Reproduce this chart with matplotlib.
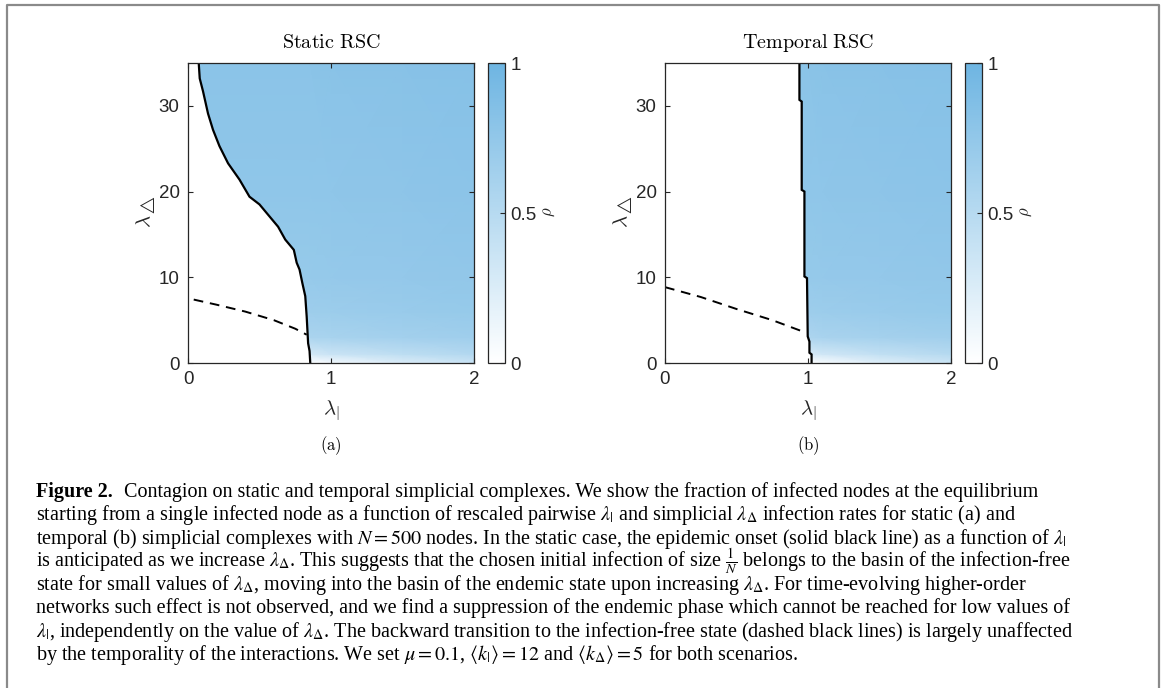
import numpy as np
import matplotlib
matplotlib.use('Agg')
import matplotlib.pyplot as plt
from matplotlib.colors import LinearSegmentedColormap
from matplotlib.patches import Polygon
from matplotlib.lines import Line2D

# ---- data ----
# epidemic onset (solid line), static RSC: (lambda_pair, lambda_tri)
static_onset_x = [0.075, 0.082, 0.105, 0.14, 0.175, 0.22, 0.28, 0.36, 0.43, 0.50, 0.57,
                  0.63, 0.68, 0.74, 0.76, 0.78, 0.80, 0.82, 0.83, 0.84, 0.85, 0.855]
static_onset_y = [35.0, 33.2, 31.7, 29.1, 27.2, 25.3, 23.3, 21.4, 19.4, 18.5, 17.1,
                  15.9, 14.4, 13.2, 11.7, 10.9, 9.3, 7.8, 5.4, 2.3, 1.4, 0.0]
# backward transition (dashed), static
static_back_x = [0.04, 0.2, 0.4, 0.6, 0.75, 0.83]
static_back_y = [7.4, 6.8, 6.0, 5.0, 4.0, 3.3]

# temporal RSC
temporal_onset_x = [0.94, 0.94, 0.956, 0.956, 0.975, 0.975, 0.993, 0.998, 1.01, 1.01, 1.025, 1.025]
temporal_onset_y = [35.0, 30.7, 30.5, 20.2, 20.0, 10.1, 9.9, 3.1, 2.5, 1.2, 1.0, 0.0]
temporal_back_x = [0.0, 0.25, 0.5, 0.75, 0.975]
temporal_back_y = [8.85, 7.7, 6.3, 5.0, 3.6]

# coarse rho field (fraction infected), rows = lambda_tri, cols = lambda_pair
static_grid_x = [0.0, 0.85, 1.0, 1.5, 2.0]
temporal_grid_x = [0.0, 1.0, 1.1, 1.5, 2.0]
grid_y = [0, 1, 3, 6, 10, 20, 35]
rho_static = [[0.00, 0.00, 0.08, 0.25, 0.36],
              [0.30, 0.30, 0.36, 0.45, 0.52],
              [0.58, 0.58, 0.60, 0.63, 0.66],
              [0.67, 0.67, 0.68, 0.70, 0.72],
              [0.72, 0.72, 0.73, 0.74, 0.75],
              [0.77, 0.77, 0.77, 0.78, 0.79],
              [0.80, 0.80, 0.81, 0.82, 0.83]]
rho_temporal = [[0.00, 0.00, 0.05, 0.22, 0.35],
                [0.28, 0.28, 0.32, 0.42, 0.50],
                [0.57, 0.57, 0.59, 0.62, 0.65],
                [0.67, 0.67, 0.68, 0.70, 0.72],
                [0.72, 0.72, 0.73, 0.74, 0.75],
                [0.77, 0.77, 0.77, 0.78, 0.79],
                [0.80, 0.80, 0.81, 0.82, 0.83]]

titles = ['Static RSC', 'Temporal RSC']
panel_tags = ['(a)', '(b)']

caption_lines = [
    r'Contagion on static and temporal simplicial complexes. We show the fraction of infected nodes at the equilibrium',
    r'starting from a single infected node as a function of rescaled pairwise $\lambda_|$ and simplicial $\lambda_\Delta$ infection rates for static (a) and',
    r'temporal (b) simplicial complexes with $N = 500$ nodes. In the static case, the epidemic onset (solid black line) as a function of $\lambda_|$',
    r'is anticipated as we increase $\lambda_\Delta$. This suggests that the chosen initial infection of size $\frac{1}{N}$ belongs to the basin of the infection-free',
    r'state for small values of $\lambda_\Delta$, moving into the basin of the endemic state upon increasing $\lambda_\Delta$. For time-evolving higher-order',
    r'networks such effect is not observed, and we find a suppression of the endemic phase which cannot be reached for low values of',
    r'$\lambda_|$, independently on the value of $\lambda_\Delta$. The backward transition to the infection-free state (dashed black lines) is largely unaffected',
    r'by the temporality of the interactions. We set $\mu = 0.1$, $\langle k_| \rangle = 12$ and $\langle k_\Delta \rangle = 5$ for both scenarios.',
]

# ---- figure ----
W, H = 1163, 688
fig = plt.figure(figsize=(W / 100, H / 100), dpi=100)
cmap = LinearSegmentedColormap.from_list('wb', ['#ffffff', '#6eb5e2'])
axcol = '#262626'
sans = 'Liberation Sans'


def fx(px):
    return px / W


def fy(py):
    return 1 - py / H


panels = [
    (188, 488, static_grid_x, rho_static, static_onset_x, static_onset_y, static_back_x, static_back_y),
    (665, 965, temporal_grid_x, rho_temporal, temporal_onset_x, temporal_onset_y, temporal_back_x, temporal_back_y),
]

for i, (left, cleft, gx, rho, ox, oy, bx, by) in enumerate(panels):
    ax = fig.add_axes([fx(left), fy(363), fx(286), (363 - 63) / H])
    X, Y = np.meshgrid(gx, grid_y)
    mesh = ax.pcolormesh(X, Y, np.array(rho), cmap=cmap, vmin=0, vmax=1,
                         shading='gouraud', rasterized=True)
    # endemic region lies to the right of the onset line
    poly = Polygon(list(zip(ox, oy)) + [(2, 0), (2, 35)], closed=True,
                   transform=ax.transData, facecolor='none', edgecolor='none')
    ax.add_patch(poly)
    mesh.set_clip_path(poly)

    ax.plot(ox, oy, color='black', lw=1.6, solid_joinstyle='miter')
    ax.plot(bx, by, color='black', lw=1.4, dashes=(5, 3.5))

    ax.set_xlim(0, 2)
    ax.set_ylim(0, 35)
    ax.set_xticks([0, 1, 2])
    ax.set_yticks([0, 10, 20, 30])
    ax.tick_params(direction='in', length=3.5, width=0.8, top=True, right=True,
                   colors=axcol, labelsize=13.5, pad=6)
    for lab in ax.get_xticklabels() + ax.get_yticklabels():
        lab.set_fontfamily(sans)
    for s in ax.spines.values():
        s.set_color(axcol)
        s.set_linewidth(0.9)

    cx = left + 143
    fig.text(fx(cx), fy(43), r'$\mathrm{%s}$' % titles[i].replace(' ', r'\ '),
             ha='center', va='center', fontsize=14.5, math_fontfamily='cm')
    fig.text(fx(cx), fy(411), r'$\lambda_|$', ha='center', va='center',
             fontsize=15, math_fontfamily='cm', color=axcol)
    fig.text(fx(left - 42), fy(212), r'$\lambda_\triangle$', ha='center', va='center',
             rotation=90, fontsize=15, math_fontfamily='cm', color=axcol)
    fig.text(fx(cx), fy(446), r'$\mathrm{%s}$' % panel_tags[i], ha='center', va='center',
             fontsize=12, math_fontfamily='cm')

    # colorbar
    cax = fig.add_axes([fx(cleft), fy(363), fx(17), (363 - 63) / H])
    cb = fig.colorbar(mesh, cax=cax, ticks=[0, 0.5, 1])
    cb.ax.set_yticklabels(['0', '0.5', '1'])
    cb.ax.tick_params(direction='in', length=3.5, width=0.8, colors=axcol,
                      labelsize=13.5, pad=4)
    for lab in cb.ax.get_yticklabels():
        lab.set_fontfamily(sans)
    cb.outline.set_edgecolor(axcol)
    cb.outline.set_linewidth(0.9)
    fig.text(fx(cleft + 60), fy(212), r'$\rho$', ha='center', va='center',
             rotation=90, fontsize=12, math_fontfamily='cm', color=axcol)

# frame around the figure (open at the bottom)
fig.add_artist(Line2D([fx(7), fx(7), fx(1159), fx(1159)], [0, fy(5), fy(5), 0],
                      transform=fig.transFigure, color='#8a8a8a', lw=1.6))

# caption
serif = 'Liberation Serif'
cap_size = 14.5
y0 = 497
step = 23.3
fig.text(fx(36), fy(y0), 'Figure 2.', fontsize=cap_size, fontfamily=serif,
         fontweight='bold', va='baseline')
fig.text(fx(124), fy(y0), caption_lines[0], fontsize=cap_size, fontfamily=serif,
         math_fontfamily='stix', va='baseline')
for k, line in enumerate(caption_lines[1:], start=1):
    fig.text(fx(36), fy(y0 + step * k), line, fontsize=cap_size, fontfamily=serif,
             math_fontfamily='stix', va='baseline')

fig.savefig('out.png', dpi=100)
